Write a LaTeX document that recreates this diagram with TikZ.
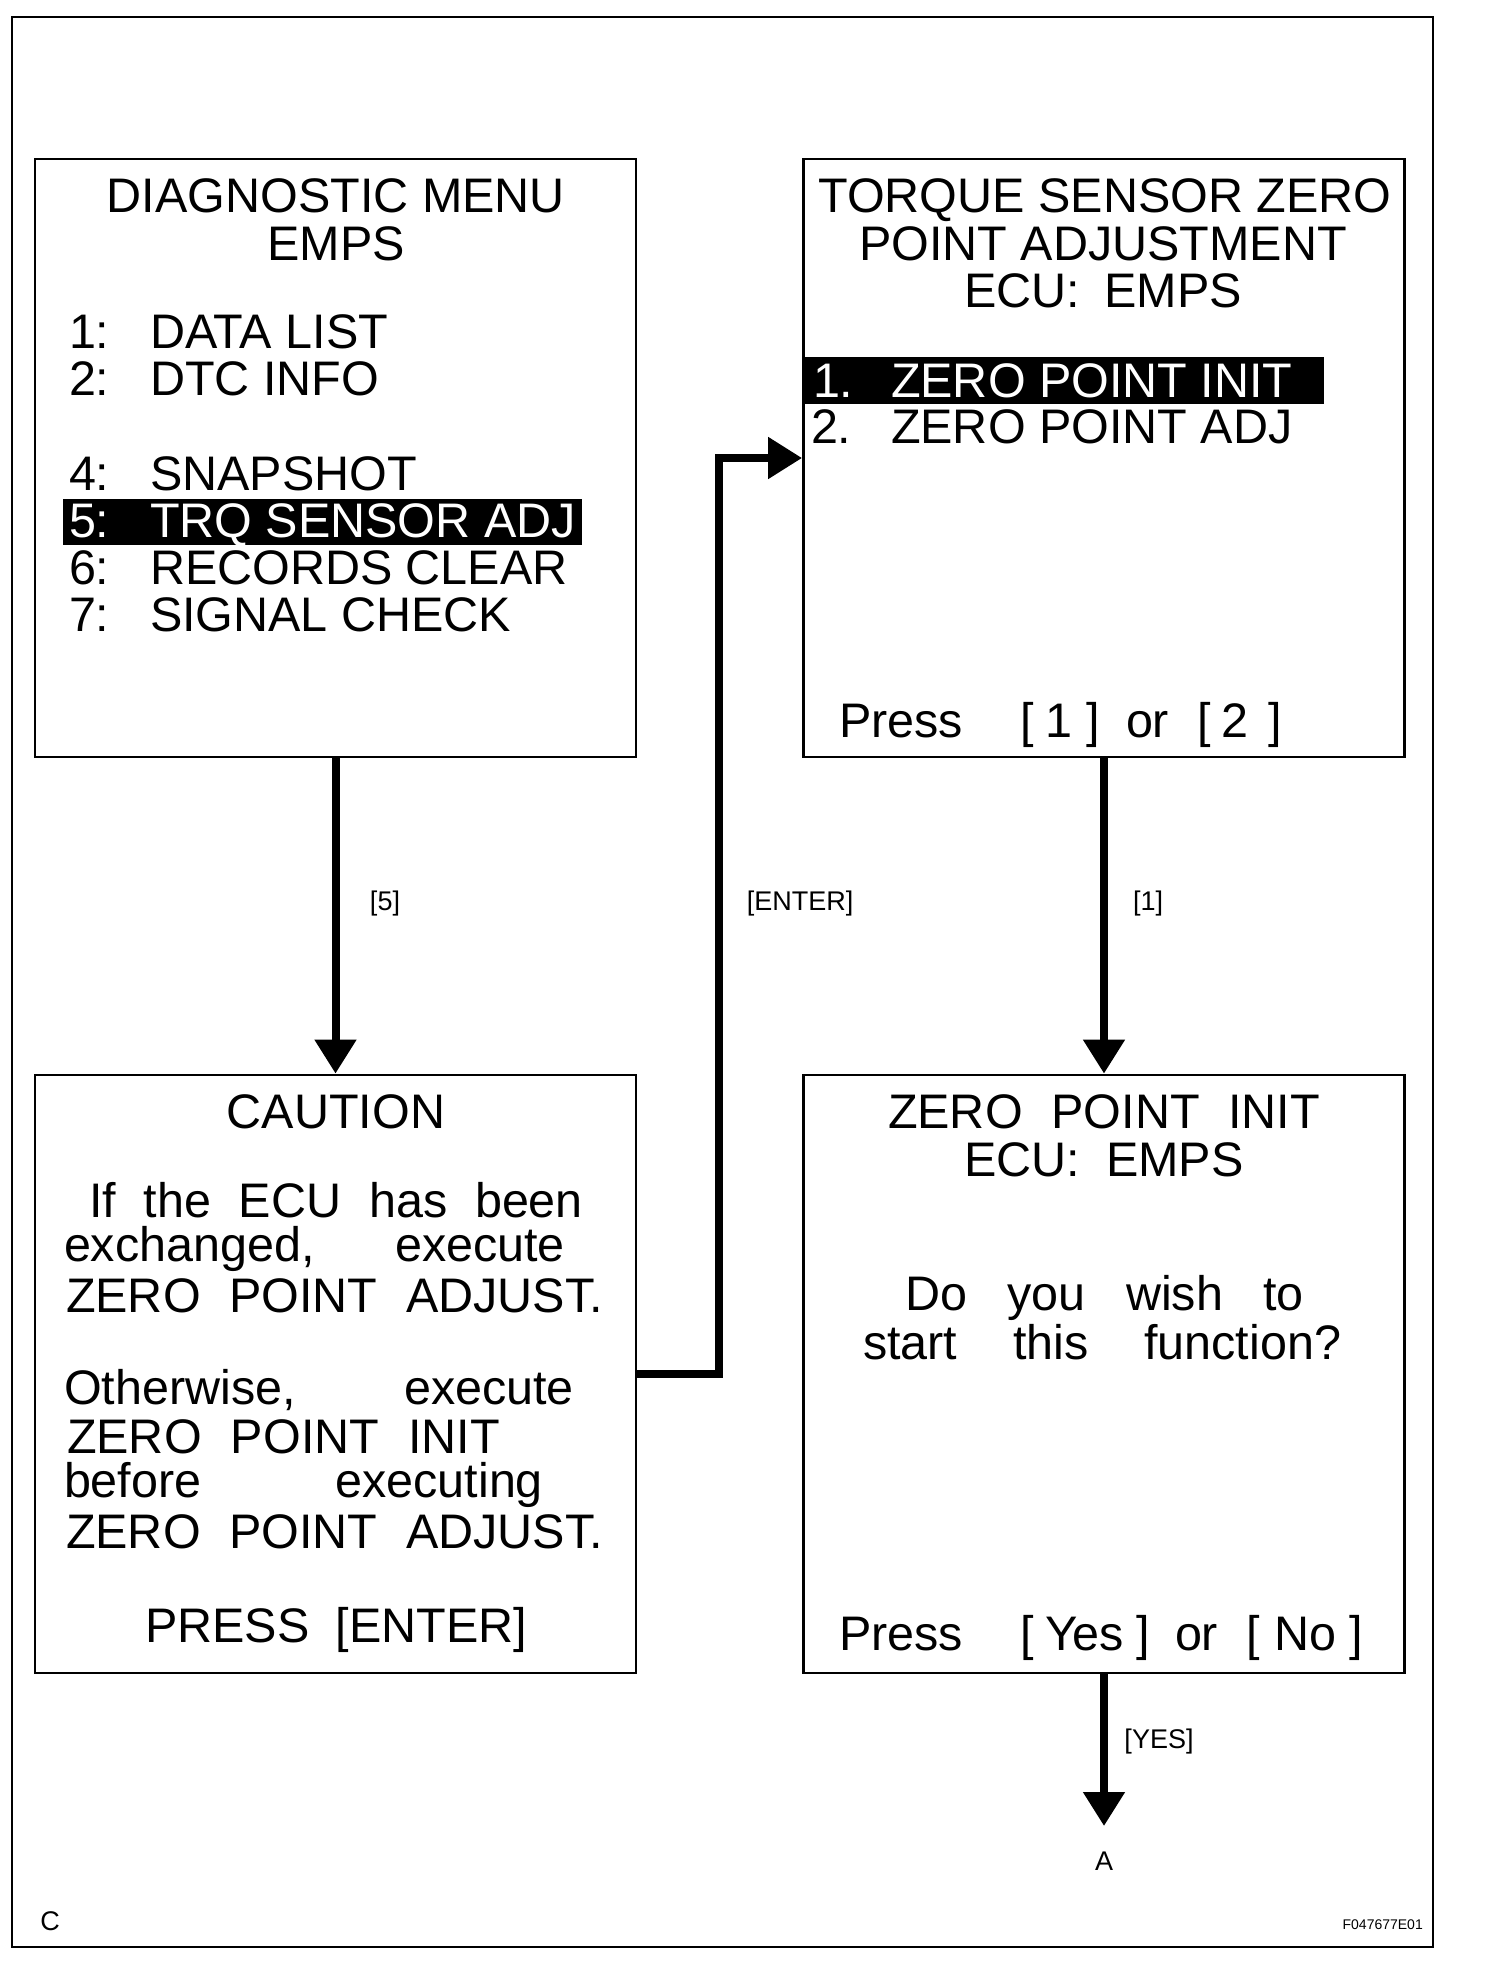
\documentclass[tikz,border=0pt]{standalone}
\usepackage{fontspec}
\setmainfont{Liberation Sans}
\usetikzlibrary{arrows.meta}
\begin{document}
\begin{tikzpicture}[x=1pt,y=-1pt,
  scr/.style={font=\fontsize{48.5}{50}\selectfont, inner sep=0pt, outer sep=0pt},
  inv/.style={scr, text=white},
  lbl/.style={font=\fontsize{27}{30}\selectfont, inner sep=0pt},
  screen/.style={draw, line width=2.8pt, minimum width=601pt, minimum height=598pt, inner sep=0pt},
  conn/.style={line width=8pt, line join=miter, -{Triangle[width=40pt,length=34pt]}}]
\useasboundingbox (0,0) rectangle (1504,1968);
% outer frame
\draw[line width=2.6pt] (12,17) rectangle (1433,1947);
% screens
\node[screen] (b1) at (335.5,458) {};
\node[screen] (b2) at (1104,458) {};
\node[screen] (b3) at (335.5,1374) {};
\node[screen] (b4) at (1104,1374) {};
% ---- box 1
\node[scr, anchor=base] (t1a) at (336,212) {DIAGNOSTIC MENU};
\node[scr, anchor=base] (t1b) at (336,260) {EMPS};
\node[scr, anchor=base west] (n1) at (69,348) {1:};
\node[scr, anchor=base west] (i1) at (150,348) {DATA LIST};
\node[scr, anchor=base west] (n2) at (69,395) {2:};
\node[scr, anchor=base west] (i2) at (150,395) {DTC INFO};
\node[scr, anchor=base west] (n4) at (69,490) {4:};
\node[scr, anchor=base west] (i4) at (150,490) {SNAPSHOT};
\fill (63,499) rectangle (582,545);
\node[inv, anchor=base west] (n5) at (69,537) {5:};
\node[inv, anchor=base west] (i5) at (150,537) {TRQ SENSOR ADJ};
\node[scr, anchor=base west] (n6) at (69,584) {6:};
\node[scr, anchor=base west] (i6) at (150,584) {RECORDS CLEAR};
\node[scr, anchor=base west] (n7) at (69,631) {7:};
\node[scr, anchor=base west] (i7) at (150,631) {SIGNAL CHECK};
% ---- box 2
\node[scr, anchor=base] (t2a) at (1105,212) {TORQUE SENSOR ZERO};
\node[scr, anchor=base] (t2b) at (1103,260) {POINT ADJUSTMENT};
\node[scr, anchor=base] (t2c) at (1103,307) {\hbox to 278pt{ECU:\hfill EMPS}};
\fill (804,357) rectangle (1324,404);
\node[inv, anchor=base west] (m1) at (813,397) {1.};
\node[inv, anchor=base west] (j1) at (891,397) {ZERO POINT INIT};
\node[scr, anchor=base west] (m2) at (811,443) {2.};
\node[scr, anchor=base west] (j2) at (891,443) {ZERO POINT ADJ};
\node[scr, anchor=base west] (p2a) at (839,737) {Press};
\node[scr, anchor=base west] (p2b) at (1020,737) {[};
\node[scr, anchor=base west] (p2c) at (1045,737) {1};
\node[scr, anchor=base west] (p2d) at (1086,737) {]};
\node[scr, anchor=base west] (p2e) at (1126,737) {or};
\node[scr, anchor=base west] (p2f) at (1197,737) {[};
\node[scr, anchor=base west] (p2g) at (1221,737) {2};
\node[scr, anchor=base west] (p2h) at (1268,737) {]};
% ---- box 3
\node[scr, anchor=base] (t3a) at (336,1128) {CAUTION};
\node[scr, anchor=base west] (c1) at (89,1217) {\hbox to 494pt{If\hfill the\hfill ECU\hfill has\hfill been}};
\node[scr, anchor=base west] (c2) at (64,1261) {\hbox to 501pt{exchanged,\hfill execute}};
\node[scr, anchor=base west] (c3) at (66,1312) {\hbox to 537pt{ZERO\hfill POINT\hfill ADJUST.}};
\node[scr, anchor=base west] (c4) at (64,1404) {\hbox to 510pt{Otherwise,\hfill execute}};
\node[scr, anchor=base west] (c5) at (67,1453) {\hbox to 433pt{ZERO\hfill POINT\hfill INIT}};
\node[scr, anchor=base west] (c6) at (64,1497) {\hbox to 479pt{before\hfill executing}};
\node[scr, anchor=base west] (c7) at (66,1548) {\hbox to 537pt{ZERO\hfill POINT\hfill ADJUST.}};
\node[scr, anchor=base] (c8) at (336,1642) {\hbox to 382pt{PRESS\hfill [ENTER]}};
% ---- box 4
\node[scr, anchor=base west] (t4a) at (888,1128) {\hbox to 432pt{ZERO\hfill POINT\hfill INIT}};
\node[scr, anchor=base] (t4b) at (1104,1176) {\hbox to 279pt{ECU:\hfill EMPS}};
\node[scr, anchor=base west] (q1) at (905,1310) {\hbox to 399pt{Do\hfill you\hfill wish\hfill to}};
\node[scr, anchor=base west] (q2) at (863,1359) {\hbox to 478pt{start\hfill this\hfill function?}};
\node[scr, anchor=base west] (p4a) at (839,1650) {Press};
\node[scr, anchor=base west] (p4b) at (1020,1650) {[};
\node[scr, anchor=base west] (p4c) at (1045,1650) {Yes};
\node[scr, anchor=base west] (p4d) at (1136,1650) {]};
\node[scr, anchor=base west] (p4e) at (1175,1650) {or};
\node[scr, anchor=base west] (p4f) at (1246,1650) {[};
\node[scr, anchor=base west] (p4g) at (1274,1650) {No};
\node[scr, anchor=base west] (p4h) at (1349,1650) {]};
% ---- connectors
\coordinate (ej) at (719,900);
\coordinate (aend) at (1104,1826);
\draw[conn] (b1.south) -- (b3.north);
\draw[conn] (b2.south) -- (b4.north);
\draw[conn] (b3.east) -- (b3.east -| ej) |- (b2.west);
\draw[conn] (b4.south) -- (aend);
% labels
\node[lbl] (l5) at (385,904) {[5]};
\node[lbl] (le) at (800,904) {[ENTER]};
\node[lbl] (l1) at (1148,904) {[1]};
\node[lbl] (ly) at (1159,1741) {[YES]};
\node[lbl] (la) at (1104,1861) {A};
\node[lbl] (lc) at (50,1921) {C};
\node[font=\fontsize{14}{16}\selectfont, inner sep=0pt, anchor=east] (fid) at (1423,1925) {F047677E01};
\end{tikzpicture}
\end{document}
